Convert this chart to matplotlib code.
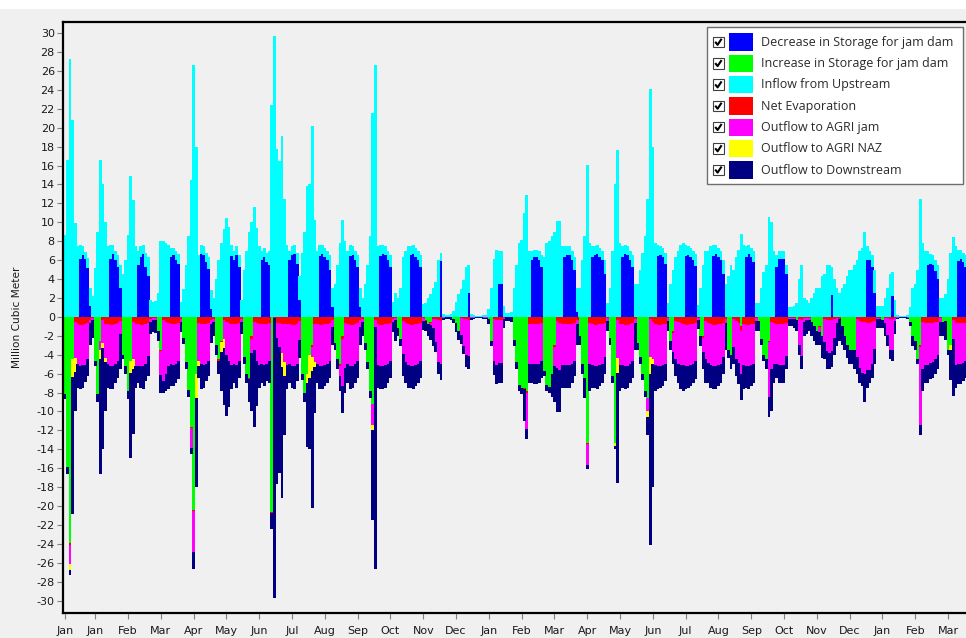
import matplotlib
matplotlib.use("Agg")
import matplotlib.pyplot as plt
from matplotlib.patches import Rectangle
from matplotlib.lines import Line2D
import numpy as np

# ---------------- data (monthly values, Million Cubic Meter) ----------------
series_names = ["Decrease in Storage for jam dam", "Increase in Storage for jam dam",
                "Inflow from Upstream", "Net Evaporation", "Outflow to AGRI jam",
                "Outflow to AGRI NAZ", "Outflow to Downstream"]

tick_labels = ["Jan", "Jan", "Feb", "Mar", "Apr", "May", "Jun", "Jul", "Aug", "Sep", "Oct",
               "Nov", "Dec", "Jan", "Feb", "Mar", "Apr", "May", "Jun", "Jul", "Aug", "Sep",
               "Oct", "Nov", "Dec", "Jan", "Feb", "Mar"]

inflow = [
    8.7, 16.6, 27.3, 20.8, 9.9, 7.5, 1.5, 1.0, 0.8, 1.0, 1.8, 2.2,
    5.2, 9.0, 16.6, 14.0, 10.0, 7.5, 1.5, 1.0, 1.0, 1.2, 2.5, 4.5,
    6.0, 8.7, 14.9, 12.4, 7.5, 1.5, 1.2, 1.0, 1.5, 2.0, 1.8, 1.6,
    1.7, 2.5, 8.0, 8.0, 7.8, 7.6, 1.0, 0.8, 1.0, 1.0, 1.6, 2.9,
    5.5, 8.5, 14.5, 26.6, 18.0, 6.5, 1.0, 1.0, 1.0, 1.2, 2.0, 2.0,
    4.0, 6.0, 7.8, 9.3, 10.5, 9.5, 1.2, 1.0, 1.0, 1.2, 1.8, 5.0,
    7.0, 9.0, 10.0, 11.6, 9.4, 7.5, 1.0, 1.0, 1.0, 1.5, 22.4, 29.7,
    17.7, 16.5, 19.1, 12.5, 7.6, 1.0, 1.0, 1.0, 1.2, 2.5, 6.7, 9.0,
    13.8, 14.0, 20.2, 10.2, 7.0, 1.2, 1.0, 1.0, 1.0, 1.5, 2.0, 3.5,
    5.5, 7.8, 10.2, 8.0, 7.0, 1.2, 1.0, 1.0, 1.2, 2.0, 2.0, 3.5,
    5.5, 8.6, 21.5, 26.6, 7.5, 1.2, 1.0, 1.0, 1.0, 1.2, 1.6, 2.5,
    2.0, 3.1, 6.3, 7.0, 7.5, 1.0, 1.0, 1.0, 1.0, 1.2, 1.4, 1.5,
    2.0, 2.4, 3.1, 3.7, 6.0, 0.8, 0.3, 0.2, 0.2, 0.3, 0.6, 1.6,
    2.4, 2.9, 3.9, 5.3, 3.0, 0.3, 0.2, 0.1, 0.1, 0.1, 0.2, 0.2,
    0.8, 3.1, 6.1, 7.1, 3.5, 3.5, 1.2, 0.4, 0.4, 0.5, 3.1, 5.5,
    7.8, 8.1, 11.0, 12.9, 7.0, 1.0, 0.8, 0.8, 1.0, 1.2, 6.3, 7.8,
    8.0, 8.5, 9.0, 10.1, 10.1, 7.5, 1.2, 1.0, 1.0, 1.0, 1.3, 2.5,
    3.0, 6.0, 8.6, 16.1, 7.8, 1.2, 1.0, 1.0, 1.0, 1.0, 1.5, 1.5,
    3.0, 7.0, 14.0, 17.6, 7.8, 1.2, 1.0, 1.0, 1.0, 1.2, 3.5, 3.5,
    5.0, 6.7, 8.5, 12.5, 24.1, 18.0, 7.8, 1.2, 1.0, 1.0, 1.2, 1.5,
    3.5, 5.0, 6.3, 7.0, 7.6, 7.8, 1.2, 1.0, 1.0, 1.0, 1.2, 1.3,
    3.1, 5.5, 7.0, 7.0, 7.5, 1.2, 1.0, 1.0, 1.0, 1.5, 3.5, 4.3,
    5.5, 5.0, 6.3, 7.1, 8.8, 7.6, 1.2, 1.0, 1.0, 1.2, 1.5, 1.5,
    3.0, 4.7, 5.5, 10.6, 10.0, 7.0, 1.2, 0.9, 0.9, 0.9, 1.0, 1.0,
    1.0, 1.2, 1.5, 4.0, 5.5, 2.0, 1.8, 1.5, 2.0, 2.5, 3.0, 3.0,
    4.3, 4.5, 5.5, 5.5, 3.0, 4.0, 3.1, 2.5, 3.0, 3.5, 4.3, 5.0,
    5.0, 5.5, 6.0, 7.0, 7.3, 9.0, 1.5, 1.0, 1.2, 2.5, 1.2, 1.2,
    1.2, 2.0, 3.1, 4.5, 2.5, 1.8, 0.2, 0.1, 0.1, 0.1, 0.2, 1.0,
    3.1, 3.5, 5.0, 12.5, 7.8, 7.0, 1.5, 1.0, 1.0, 1.2, 1.5, 2.0,
    2.0, 2.4, 4.0, 6.7, 8.4, 7.5, 1.2, 1.0, 1.0, 1.2, 1.5, 3.0,
]

decrease = [
    0, 0, 0, 0, 0, 0, 6.1, 6.5, 6.1, 5.2, 1.2, 0,
    0, 0, 0, 0, 0, 0, 6.1, 6.6, 6.0, 5.3, 3.0, 0,
    0, 0, 0, 0, 0, 5.5, 6.3, 6.6, 5.3, 4.3, 0, 0,
    0, 0, 0, 0, 0, 0, 6.3, 6.5, 6.0, 5.6, 0, 0,
    0, 0, 0, 0, 0, 0, 6.6, 6.5, 5.8, 5.1, 0.8, 0,
    0, 0, 0, 0, 0, 0, 6.4, 6.0, 6.5, 5.3, 0, 0,
    0, 0, 0, 0, 0, 0, 6.0, 6.3, 5.8, 5.5, 0, 0,
    0, 0, 0, 0, 0, 6.0, 6.5, 6.6, 5.6, 1.8, 0, 0,
    0, 0, 0, 0, 0, 6.4, 6.6, 6.3, 6.0, 5.0, 1.0, 0,
    0, 0, 0, 0, 0, 6.4, 6.5, 6.0, 5.3, 1.0, 0, 0,
    0, 0, 0, 0, 0, 6.4, 6.6, 6.5, 6.0, 5.3, 0, 0,
    0, 0, 0, 0, 0, 6.5, 6.6, 6.3, 6.0, 5.3, 0, 0,
    0, 0, 0, 0, 0, 5.9, 0, 0, 0, 0, 0, 0,
    0, 0, 0, 0, 2.5, 0, 0, 0, 0, 0, 0, 0,
    0, 0, 0, 0, 3.5, 3.5, 0, 0, 0, 0, 0, 0,
    0, 0, 0, 0, 0, 6.0, 6.3, 6.3, 6.0, 5.3, 0, 0,
    0, 0, 0, 0, 0, 0, 6.3, 6.5, 6.5, 6.0, 5.0, 0.5,
    0, 0, 0, 0, 0, 6.3, 6.5, 6.6, 6.3, 6.0, 4.5, 0,
    0, 0, 0, 0, 0, 6.3, 6.6, 6.5, 6.0, 5.3, 0, 0,
    0, 0, 0, 0, 0, 0, 0, 6.4, 6.5, 6.3, 5.6, 0,
    0, 0, 0, 0, 0, 0, 6.4, 6.5, 6.3, 6.0, 5.4, 0,
    0, 0, 0, 0, 0, 6.4, 6.6, 6.3, 6.0, 4.5, 0, 0,
    0, 0, 0, 0, 0, 0, 6.3, 6.6, 6.3, 5.8, 0, 0,
    0, 0, 0, 0, 0, 0, 5.3, 6.1, 6.1, 6.1, 4.5, 0,
    0, 0, 0, 0, 0, 0, 0, 0, 0, 0, 0, 0,
    0, 0, 0, 0, 2.3, 0, 0, 0, 0, 0, 0, 0,
    0, 0, 0, 0, 0, 0, 6.0, 6.0, 5.3, 2.5, 0, 0,
    0, 0, 0, 0, 2.2, 0, 0, 0, 0, 0, 0, 0,
    0, 0, 0, 0, 0, 0, 5.5, 5.6, 5.5, 4.8, 4.0, 0,
    0, 0, 0, 0, 0, 0, 5.9, 6.1, 5.8, 5.3, 4.5, 0,
]

increase = [
    8.2, 15.9, 23.9, 4.5, 0, 0, 0, 0, 0, 0, 0, 0,
    4.7, 8.2, 2.5, 0, 0, 0, 0, 0, 0, 0, 0, 4.0,
    5.2, 7.8, 4.7, 0, 0, 0, 0, 0, 0, 0, 0, 0,
    0, 1.5, 3.5, 0, 0, 0, 0, 0, 0, 0, 0, 2.2,
    4.8, 7.7, 11.6, 20.4, 6.0, 0, 0, 0, 0, 0, 0, 0,
    3.0, 4.5, 2.5, 0, 0, 0, 0, 0, 0, 0, 0, 4.2,
    6.0, 6.5, 2.0, 0, 0, 0, 0, 0, 0, 0, 20.6, 0,
    0, 0, 0, 0, 0, 0, 0, 0, 0, 0, 6.0, 8.0,
    6.0, 4.0, 3.0, 0, 0, 0, 0, 0, 0, 0, 0, 2.8,
    4.5, 5.0, 2.0, 0, 0, 0, 0, 0, 0, 0, 0, 2.8,
    4.8, 7.8, 9.2, 0, 0, 0, 0, 0, 0, 0, 0, 0,
    1.2, 2.3, 0, 0, 0, 0, 0, 0, 0, 0, 0, 0.3,
    0.8, 0.5, 0, 0, 0, 0, 0, 0, 0, 0, 0.2, 0.6,
    1.5, 0, 0, 0, 0, 0, 0, 0, 0, 0, 0, 0,
    0.2, 2.5, 0, 0, 0, 0, 0, 0, 0, 0, 2.4, 4.8,
    7.2, 7.5, 7.5, 7.8, 0, 0, 0, 0, 0, 0, 5.7, 7.2,
    7.4, 6.0, 3.0, 0, 0, 0, 0, 0, 0, 0, 0, 0,
    2.0, 5.0, 6.5, 13.3, 0, 0, 0, 0, 0, 0, 0, 0,
    2.2, 6.3, 13.3, 0, 0, 0, 0, 0, 0, 0, 0, 2.8,
    4.2, 6.0, 7.8, 8.6, 0, 0, 0, 0, 0, 0, 0, 0,
    2.5, 1.5, 0, 0, 0, 0, 0, 0, 0, 0, 0, 0,
    2.0, 2.0, 0, 0, 0, 0, 0, 0, 0, 0, 0, 3.5,
    4.0, 0, 0, 0, 1.0, 0, 0, 0, 0, 0, 0, 0.4,
    2.3, 4.0, 4.5, 2.5, 0, 0, 0, 0, 0, 0, 0, 0,
    0, 0, 0.3, 0, 0, 0, 0, 0, 0.5, 1.0, 1.5, 1.0,
    2.0, 0, 0, 0, 0, 0, 0, 0, 1.0, 2.0, 3.0, 3.5,
    3.5, 3.5, 0, 0, 0, 0, 0, 0, 0, 0, 0, 0,
    0.3, 0, 0, 0, 0, 0, 0, 0, 0, 0, 0, 0.5,
    2.0, 2.5, 4.5, 3.0, 0, 0, 0, 0, 0, 0, 0, 0,
    0.5, 0.4, 3.5, 3.0, 0, 0, 0, 0, 0, 0, 0, 0,
]

evaporation = [
    0, 0, 0.2, 0, 0.5, 0.8, 0.9, 0.9, 0.8, 0.6, 0.3, 0.1,
    0, 0, 0, 0.3, 0.8, 0.8, 0.9, 0.9, 0.8, 0.7, 0.4, 0,
    0, 0, 0, 0.5, 0.8, 0.8, 0.9, 0.9, 0.8, 0.6, 0.2, 0.1,
    0.1, 0, 0.1, 0.3, 0.5, 0.7, 0.8, 0.8, 0.8, 0.7, 0.2, 0,
    0, 0, 0.1, 0.1, 0, 0.7, 0.8, 0.8, 0.8, 0.7, 0.3, 0.2,
    0, 0.2, 0.2, 0.3, 0.5, 0.7, 0.8, 0.8, 0.8, 0.7, 0.2, 0,
    0, 0.1, 0.3, 0.5, 0.7, 0.8, 0.8, 0.8, 0.8, 0.7, 0.1, 0.1,
    0.7, 0.7, 0.8, 0.8, 0.8, 0.8, 0.9, 0.9, 0.8, 0.4, 0, 0,
    0, 0, 0.2, 0.8, 0.8, 0.9, 0.9, 0.8, 0.8, 0.7, 0.3, 0,
    0, 0.2, 0.3, 0.6, 0.8, 0.9, 0.9, 0.8, 0.7, 0.3, 0.2, 0,
    0, 0, 0, 0.3, 0.8, 0.9, 0.9, 0.8, 0.8, 0.7, 0.2, 0.1,
    0, 0, 0.4, 0.6, 0.8, 0.9, 0.9, 0.8, 0.8, 0.7, 0.1, 0.1,
    0, 0.1, 0.2, 0.2, 0.3, 0.4, 0.05, 0.05, 0.05, 0.05, 0, 0,
    0, 0.1, 0.2, 0.2, 0.3, 0.05, 0, 0, 0, 0, 0, 0,
    0, 0, 0.2, 0.3, 0.3, 0.3, 0.1, 0, 0, 0, 0, 0,
    0, 0, 0.1, 0.2, 0.8, 0.8, 0.8, 0.8, 0.8, 0.7, 0, 0,
    0, 0, 0.2, 0.4, 0.6, 0.8, 0.8, 0.8, 0.8, 0.8, 0.7, 0.3,
    0, 0, 0, 0.1, 0.7, 0.8, 0.9, 0.9, 0.8, 0.8, 0.6, 0.1,
    0, 0, 0, 0.3, 0.8, 0.8, 0.9, 0.9, 0.8, 0.7, 0.2, 0,
    0, 0, 0, 0, 0.2, 0.5, 0.8, 0.9, 0.9, 0.8, 0.8, 0.1,
    0, 0.2, 0.4, 0.5, 0.7, 0.8, 0.9, 0.9, 0.8, 0.8, 0.7, 0.1,
    0, 0.2, 0.4, 0.6, 0.8, 0.9, 0.9, 0.8, 0.8, 0.6, 0.2, 0,
    0, 0.2, 0.4, 0.6, 0.5, 0.8, 0.9, 0.9, 0.8, 0.8, 0.1, 0,
    0, 0, 0, 0.2, 0.5, 0.7, 0.8, 0.8, 0.8, 0.8, 0.6, 0.1,
    0.1, 0.1, 0, 0.2, 0.3, 0.1, 0.1, 0.1, 0, 0, 0, 0.1,
    0, 0.2, 0.3, 0.3, 0.3, 0.2, 0.1, 0.2, 0, 0, 0, 0,
    0, 0, 0.2, 0.4, 0.5, 0.5, 0.6, 0.6, 0.5, 0.4, 0.1, 0.1,
    0, 0.1, 0.1, 0.2, 0.2, 0.1, 0, 0, 0, 0, 0, 0,
    0, 0, 0, 0.2, 0.5, 0.6, 0.6, 0.6, 0.6, 0.5, 0.5, 0.1,
    0, 0, 0, 0, 0.3, 0.6, 0.7, 0.7, 0.7, 0.7, 0.6, 0.2,
]

agri_jam = [
    0, 0, 2.0, 0, 3.8, 4.2, 4.3, 4.2, 4.3, 3.8, 0.4, 0.2,
    0, 0, 1.0, 2.5, 3.5, 4.2, 4.3, 4.3, 4.2, 4.0, 1.4, 0,
    0, 0, 0, 4.0, 4.4, 4.4, 4.3, 4.3, 4.2, 3.5, 0.3, 0.2,
    0.2, 0, 2.5, 6.5, 5.5, 4.5, 4.2, 4.3, 4.2, 4.0, 0.3, 0,
    0, 0, 2.2, 4.3, 0, 4.0, 4.2, 4.3, 4.2, 4.0, 0.5, 0.3,
    0, 0, 0, 2.0, 3.5, 4.0, 4.3, 4.2, 4.3, 4.0, 0.3, 0,
    0, 0, 1.5, 3.0, 4.0, 4.3, 4.2, 4.3, 4.2, 4.0, 0, 0,
    1.5, 2.5, 3.0, 4.0, 4.3, 4.2, 4.3, 4.3, 4.2, 2.0, 0, 0,
    0, 0, 1.0, 4.0, 4.2, 4.3, 4.3, 4.3, 4.2, 4.0, 0.8, 0,
    0, 1.0, 5.0, 4.8, 4.2, 4.3, 4.3, 4.2, 4.0, 0.8, 0.3, 0,
    0, 0, 2.2, 0.8, 4.3, 4.3, 4.3, 4.3, 4.2, 4.0, 0.3, 0.2,
    0, 0, 3.5, 4.2, 4.3, 4.3, 4.3, 4.3, 4.2, 4.0, 0.3, 0,
    0, 0.3, 1.0, 2.5, 4.5, 4.6, 0.05, 0, 0, 0, 0, 0,
    0, 1.8, 2.9, 3.8, 3.8, 0.05, 0.1, 0.05, 0.05, 0.05, 0.1, 0.1,
    0, 0, 4.5, 4.8, 4.6, 4.6, 0.1, 0, 0, 0, 0, 0,
    0, 0, 0, 3.8, 4.2, 4.2, 4.2, 4.2, 4.2, 4.0, 0, 0,
    0, 0, 2.0, 5.0, 5.0, 4.3, 4.3, 4.3, 4.3, 4.2, 4.0, 0.5,
    0, 0, 0, 2.3, 4.3, 4.3, 4.3, 4.3, 4.3, 4.2, 3.6, 0.3,
    0, 0, 0, 4.0, 4.3, 4.3, 4.3, 4.3, 4.2, 4.0, 0.5, 0,
    0, 0, 0, 1.4, 4.0, 4.0, 4.3, 4.3, 4.3, 4.3, 4.2, 0.3,
    0, 2.0, 4.0, 4.5, 4.4, 4.3, 4.3, 4.3, 4.3, 4.2, 4.0, 0.2,
    0, 1.5, 4.0, 4.3, 4.3, 4.3, 4.3, 4.3, 4.2, 3.6, 0.5, 0,
    0, 3.0, 4.0, 4.3, 4.5, 4.3, 4.3, 4.3, 4.3, 4.2, 0.3, 0,
    0, 0, 0, 5.8, 5.0, 4.3, 4.2, 4.3, 4.3, 4.3, 3.5, 0.1,
    0.1, 0.1, 0, 2.8, 3.8, 0.4, 0.2, 0.2, 0, 0, 0, 0.5,
    0, 2.5, 3.3, 3.5, 3.3, 2.0, 0.5, 0, 0, 0, 0, 0,
    0, 0, 4.0, 5.0, 5.4, 5.5, 5.0, 5.0, 4.5, 3.0, 0.1, 0.1,
    0, 0.6, 1.8, 3.3, 3.3, 0.3, 0.1, 0.05, 0.05, 0.05, 0.1, 0,
    0, 0, 0, 8.2, 5.0, 4.5, 4.5, 4.3, 4.2, 4.0, 3.5, 0.4,
    0, 0, 0, 0, 2.0, 4.5, 4.3, 4.3, 4.2, 4.0, 3.6, 0.8,
]

agri_naz = [
    0, 0, 0.7, 1.9, 1.5, 0, 0, 0, 0, 0, 0, 0,
    0, 0, 1.0, 0.5, 0.5, 0, 0, 0, 0, 0, 0, 0,
    0, 0, 1.2, 1.0, 0, 0, 0, 0, 0, 0, 0, 0,
    0, 0, 0, 0, 0, 0, 0, 0, 0, 0, 0, 0,
    0, 0, 0, 0, 2.6, 0.5, 0, 0, 0, 0, 0, 0,
    0, 0, 1.0, 1.0, 0, 0, 0, 0, 0, 0, 0, 0,
    0, 0, 0, 0, 0, 0, 0, 0, 0, 0, 0, 0,
    0, 0, 1.5, 1.5, 0, 0, 0, 0, 0, 0, 0, 0,
    1.0, 2.5, 1.5, 0.5, 0, 0, 0, 0, 0, 0, 0, 0,
    0, 0, 0, 0, 0, 0, 0, 0, 0, 0, 0, 0,
    0, 0, 0.6, 0, 0, 0, 0, 0, 0, 0, 0, 0,
    0, 0, 0, 0, 0, 0, 0, 0, 0, 0, 0, 0,
    0, 0, 0, 0, 0, 0, 0, 0, 0, 0, 0, 0,
    0, 0, 0, 0, 0, 0, 0, 0, 0, 0, 0, 0,
    0, 0, 0, 0, 0, 0, 0, 0, 0, 0, 0, 0,
    0, 0, 0, 0, 0, 0, 0, 0, 0, 0, 0, 0,
    0, 0, 0, 0, 0, 0, 0, 0, 0, 0, 0, 0,
    0, 0, 0, 0, 0, 0, 0, 0, 0, 0, 0, 0,
    0, 0, 0.3, 1.6, 0, 0, 0, 0, 0, 0, 0, 0,
    0, 0, 0, 0.6, 1.8, 0.5, 0, 0, 0, 0, 0, 0,
    0, 0, 0, 0, 0, 0, 0, 0, 0, 0, 0, 0,
    0, 0, 0, 0, 0, 0, 0, 0, 0, 0, 0, 0,
    0, 0, 0, 0, 0, 0, 0, 0, 0, 0, 0, 0,
    0, 0, 0, 0, 0, 0, 0, 0, 0, 0, 0, 0,
    0, 0, 0, 0, 0, 0, 0, 0, 0, 0, 0, 0,
    0, 0, 0, 0, 0, 0, 0, 0, 0, 0, 0, 0,
    0, 0, 0, 0, 0, 0, 0, 0, 0, 0, 0, 0,
    0, 0, 0, 0, 0, 0, 0, 0, 0, 0, 0, 0,
    0, 0, 0, 0, 0, 0, 0, 0, 0, 0, 0, 0,
    0, 0, 0, 0.5, 0, 0, 0, 0, 0, 0, 0, 0,
]

downstream = [
    0.5, 0.7, 0.5, 14.4, 4.1, 2.5, 2.4, 2.4, 1.8, 1.8, 2.3, 1.9,
    0.5, 0.8, 12.1, 10.7, 5.2, 2.5, 2.4, 2.4, 2.0, 1.8, 3.7, 0.5,
    0.8, 0.9, 9.0, 6.9, 2.3, 1.8, 2.3, 2.4, 1.8, 2.2, 1.3, 1.3,
    1.4, 1.0, 1.9, 1.2, 1.8, 2.4, 2.3, 2.2, 2.0, 1.9, 1.1, 0.7,
    0.7, 0.8, 0.6, 1.8, 9.4, 1.3, 2.6, 2.4, 1.8, 1.6, 2.0, 1.5,
    1.0, 1.3, 4.1, 6.0, 6.5, 4.8, 2.5, 2.0, 2.4, 1.8, 1.3, 0.8,
    1.0, 2.4, 6.2, 8.1, 4.7, 2.4, 2.0, 2.2, 1.8, 2.3, 1.7, 29.6,
    15.5, 13.3, 13.8, 6.2, 2.5, 2.0, 2.3, 2.4, 1.8, 1.9, 0.7, 1.0,
    6.8, 7.5, 14.5, 4.9, 2.0, 2.4, 2.4, 2.2, 2.0, 1.8, 1.9, 0.7,
    1.0, 1.6, 2.9, 2.6, 2.0, 2.4, 2.3, 2.0, 1.8, 1.9, 1.5, 0.7,
    0.7, 0.8, 9.5, 25.5, 2.4, 2.4, 2.4, 2.4, 2.0, 1.8, 1.1, 2.2,
    0.8, 0.8, 2.4, 2.2, 2.4, 2.3, 2.4, 2.2, 2.0, 1.8, 1.0, 1.1,
    1.2, 1.5, 1.9, 1.0, 1.2, 1.7, 0.2, 0.15, 0.15, 0.25, 0.4, 1.0,
    0.9, 1.0, 0.8, 1.3, 1.4, 0.2, 0.1, 0.05, 0.05, 0.05, 0.1, 0.1,
    0.6, 0.6, 1.4, 2.0, 2.1, 2.1, 1.0, 0.4, 0.4, 0.5, 0.7, 0.7,
    0.6, 0.6, 3.4, 1.1, 2.0, 2.0, 2.1, 2.1, 2.0, 1.8, 0.6, 0.6,
    0.6, 2.5, 3.8, 4.7, 4.5, 2.4, 2.4, 2.4, 2.4, 2.0, 1.6, 2.2,
    1.0, 1.0, 2.1, 0.4, 2.8, 2.4, 2.3, 2.4, 2.2, 2.0, 1.8, 1.1,
    0.8, 0.7, 0.4, 11.7, 2.7, 2.4, 2.4, 2.3, 2.0, 1.8, 2.8, 0.7,
    0.8, 0.7, 0.7, 1.9, 18.1, 13.0, 2.7, 2.4, 2.3, 2.2, 1.8, 1.1,
    1.0, 1.3, 1.9, 2.0, 2.5, 2.7, 2.4, 2.3, 2.2, 2.0, 1.9, 1.0,
    1.1, 1.8, 2.6, 2.1, 2.4, 2.4, 2.4, 2.2, 2.0, 1.8, 2.8, 0.8,
    1.5, 1.8, 1.9, 2.2, 2.8, 2.5, 2.3, 2.4, 2.2, 2.0, 1.1, 1.1,
    0.7, 0.7, 1.0, 2.1, 4.5, 2.0, 1.5, 1.9, 1.9, 1.9, 1.4, 0.8,
    0.8, 1.0, 1.2, 1.0, 1.4, 1.5, 1.5, 1.2, 1.5, 1.5, 1.5, 1.4,
    2.3, 1.8, 1.9, 1.7, 1.7, 1.8, 2.5, 2.3, 2.0, 1.5, 1.3, 1.5,
    1.5, 2.0, 1.8, 1.6, 1.4, 3.0, 1.9, 1.4, 1.5, 1.6, 1.0, 1.0,
    0.9, 1.3, 1.2, 1.0, 1.2, 1.4, 0.1, 0.05, 0.05, 0.05, 0.1, 0.5,
    1.1, 1.0, 0.5, 1.1, 2.3, 1.9, 1.9, 1.7, 1.7, 1.5, 1.5, 1.5,
    1.5, 2.0, 0.5, 3.2, 6.1, 2.4, 2.1, 2.1, 1.9, 1.8, 1.8, 2.0,
]

# ---------------- styling ----------------
C_BLUE, C_GREEN, C_CYAN = "#0000FF", "#00FF00", "#00FFFF"
C_RED, C_MAGENTA, C_YELLOW, C_NAVY = "#FF0000", "#FF00FF", "#FFFF00", "#000080"
BG = "#F0F0F0"

W, H = 966, 638
fig = plt.figure(figsize=(W / 100, H / 100), dpi=100, facecolor=BG)

# axes box in pixels
ax_l, ax_r, ax_t, ax_b = 62.5, 973.3, 21.7, 613.0
ax = fig.add_axes([ax_l / W, 1 - ax_b / H, (ax_r - ax_l) / W, (ax_b - ax_t) / H])
ax.set_facecolor(BG)

n = len(inflow)
x = np.arange(n)
BAR_W = 1.12  # slight overlap so neighbouring months touch without seams

pos_bottom = np.zeros(n)
for vals, col in [(decrease, C_BLUE), (inflow, C_CYAN)]:
    v = np.asarray(vals, dtype=float)
    ax.bar(x, v, width=BAR_W, bottom=pos_bottom, color=col, linewidth=0, antialiased=False)
    pos_bottom += v

neg_bottom = np.zeros(n)
for vals, col in [(increase, C_GREEN), (evaporation, C_RED), (agri_jam, C_MAGENTA),
                  (agri_naz, C_YELLOW), (downstream, C_NAVY)]:
    v = np.asarray(vals, dtype=float)
    ax.bar(x, -v, width=BAR_W, bottom=neg_bottom, color=col, linewidth=0, antialiased=False)
    neg_bottom -= v

ax.set_xlim(-0.99, 360.0)
ax.set_ylim(-31.3, 31.2)

ax.set_yticks(np.arange(-30, 31, 2))
ax.set_yticklabels([str(v) for v in range(-30, 31, 2)])
tick_pos = [0] + [12 + 13 * k for k in range(len(tick_labels) - 1)]
ax.set_xticks(tick_pos)
ax.set_xticklabels(tick_labels)

for s in ["left", "bottom", "top"]:
    ax.spines[s].set_color("black")
    ax.spines[s].set_linewidth(1.6)
    ax.spines[s].set_zorder(5)
ax.spines["right"].set_visible(False)

ax.tick_params(axis="y", direction="out", length=4, width=0.8, color="#808080",
               labelsize=8, pad=1.5, labelcolor="#1a1a1a")
ax.tick_params(axis="x", direction="out", length=4, width=0.8, color="#808080",
               labelsize=8, pad=5.0, labelcolor="#1a1a1a")
for lab in ax.get_xticklabels() + ax.get_yticklabels():
    lab.set_family("DejaVu Sans")

# ---------------- overlay in pixel coordinates ----------------
ov = fig.add_axes([0, 0, 1, 1], facecolor="none")
ov.set_xlim(0, W)
ov.set_ylim(H, 0)
ov.axis("off")

# white strip at the top
ov.add_patch(Rectangle((0, 0), W, 8.5, facecolor="white", edgecolor="none"))

# y-axis title
ov.text(17, 317, "Million Cubic Meter", rotation=90, ha="center", va="center",
        fontsize=7.6, family="DejaVu Sans", color="#1a1a1a")

# legend
ov.add_patch(Rectangle((706.7, 27.3), 256.3, 156.7, facecolor="white",
                       edgecolor="#6e6e6e", linewidth=1.0))
legend_colors = [C_BLUE, C_GREEN, C_CYAN, C_RED, C_MAGENTA, C_YELLOW, C_NAVY]
for k, (name, col) in enumerate(zip(series_names, legend_colors)):
    yc = 42.0 + 21.3 * k
    ov.add_patch(Rectangle((713, yc - 5.3), 10.6, 10.6, facecolor="white",
                           edgecolor="#404040", linewidth=0.8))
    ov.add_line(Line2D([715.2, 717.6, 721.6], [yc - 0.2, yc + 2.8, yc - 3.2],
                       color="black", linewidth=1.5, solid_capstyle="butt"))
    ov.add_patch(Rectangle((729, yc - 8.7), 24, 17.4, facecolor=col, edgecolor="none"))
    ov.text(760.7, yc + 0.3, name, ha="left", va="center", fontsize=9,
            family=["Open Sans", "DejaVu Sans"], color="#2a2a2a")

fig.savefig("out.png", dpi=100, facecolor=BG)
